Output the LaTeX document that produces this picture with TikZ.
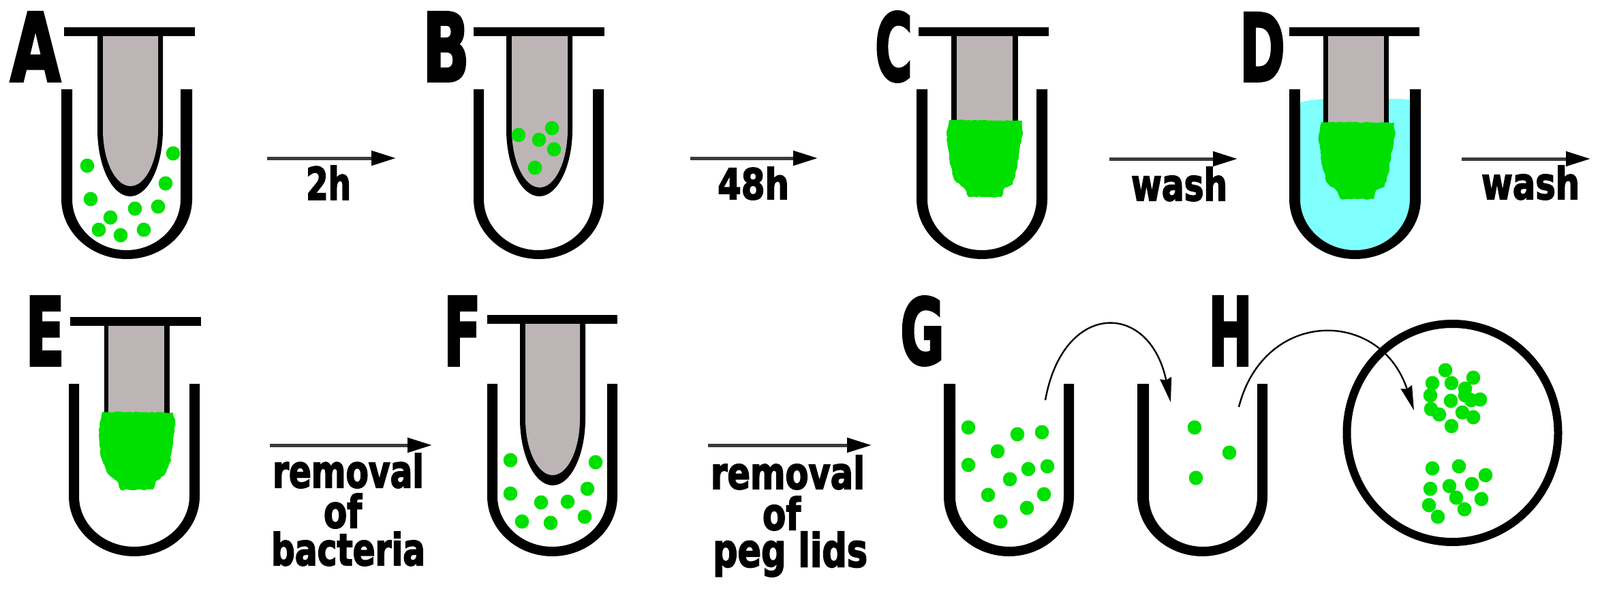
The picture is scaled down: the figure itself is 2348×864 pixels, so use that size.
\documentclass[tikz,border=0pt]{standalone}
\usepackage{graphicx}
\usepackage{fontspec}
\setmainfont[FakeBold=3]{DejaVu Sans Bold}
\usetikzlibrary{arrows.meta,decorations.pathmorphing}
\definecolor{biogreen}{HTML}{00E000}
\definecolor{peggray}{HTML}{BDB5B5}
\definecolor{washcyan}{HTML}{80FFFF}
\definecolor{shaftgray}{HTML}{3A3A3A}
\tikzset{
  lbl/.style={inner sep=0pt,outer sep=0pt,anchor=north west,text=black},
  flow/.style={draw=shaftgray,line width=5pt,-{Triangle[length=36pt,width=21pt,fill=black,color=black]}},
  hop/.style={draw=black,line width=2.4pt,-{Stealth[length=36pt,width=17pt,inset=3pt]}},
  biofilm/.style={fill=biogreen,draw=biogreen,line width=2pt,line join=round,decorate,decoration={random steps,segment length=4pt,amplitude=0.9pt}},
}
% text fitted to an exact box: name, left, top, right, bottom, text
\newcommand{\fitlabel}[6]{\node[lbl] (#1) at (#2,#3) {\resizebox*{\dimexpr #4pt-#2pt\relax}{\dimexpr #5pt-#3pt\relax}{#6}};}
% elliptical U: left, right, curve y, bottom y
\newcommand{\ucalc}[4]{%
  \pgfmathsetmacro{\ucx}{(#1+#2)/2}%
  \pgfmathsetmacro{\uya}{#3+0.55*(#4-#3)}%
  \pgfmathsetmacro{\uxa}{\ucx-0.55*(\ucx-#1)}%
  \pgfmathsetmacro{\uxb}{\ucx+0.55*(\ucx-#1)}}
% well: oL iL iR oR top curveY innerBottom outerBottom innerFill
\newcommand{\well}[9]{%
  \pgfmathsetmacro{\wtop}{#5+14}%
  \ucalc{#2}{#3}{#6}{#7}%
  \fill[#9] (#2,\wtop) -- (#2,#6) .. controls (#2,\uya) and (\uxa,#7) .. (\ucx,#7)
     .. controls (\uxb,#7) and (#3,\uya) .. (#3,#6) -- (#3,\wtop) -- cycle;
  \fill[black] (#2,#5) -- (#2,#6) .. controls (#2,\uya) and (\uxa,#7) .. (\ucx,#7)
     .. controls (\uxb,#7) and (#3,\uya) .. (#3,#6) -- (#3,#5)
  \ucalcpath{#1}{#4}{#6}{#8}{#5};
}
\newcommand{\ucalcpath}[5]{%
  -- (#2,#5) -- (#2,#3) \ucurveback{#1}{#2}{#3}{#4} -- (#1,#5) -- cycle}
\def\ucurveback#1#2#3#4{%
  .. controls (#2,{#3+0.55*(#4-#3)}) and ({(#1+#2)/2+0.275*(#2-#1)},#4) .. ({(#1+#2)/2},#4)
  .. controls ({(#1+#2)/2-0.275*(#2-#1)},#4) and (#1,{#3+0.55*(#4-#3)}) .. (#1,#3)}
% lid: left right top bottom
\newcommand{\lid}[4]{\fill[black] (#1,#3) rectangle (#2,#4);}
% round peg: oL iL iR oR top curveY innerBottom outerBottom
\newcommand{\roundpeg}[8]{%
  \ucalc{#1}{#4}{#6}{#8}%
  \fill[black] (#1,#5) -- (#1,#6) .. controls (#1,\uya) and (\uxa,#8) .. (\ucx,#8)
     .. controls (\uxb,#8) and (#4,\uya) .. (#4,#6) -- (#4,#5) -- cycle;
  \ucalc{#2}{#3}{#6}{#7}%
  \fill[peggray] (#2,#5) -- (#2,#6) .. controls (#2,\uya) and (\uxa,#7) .. (\ucx,#7)
     .. controls (\uxb,#7) and (#3,\uya) .. (#3,#6) -- (#3,#5) -- cycle;
}
% cut peg: oL iL iR oR top bottom
\newcommand{\cutpeg}[6]{\fill[black] (#1,#5) rectangle (#4,#6); \fill[peggray] (#2,#5) rectangle (#3,#6);}
\newcommand{\cells}[1]{\foreach \p/\q in {#1} \fill[biogreen] (\p,\q) ellipse [x radius=10.3,y radius=10.5];}
\begin{document}
\begin{tikzpicture}[x=1pt,y=-1pt]
\useasboundingbox[fill=white] (0,0) rectangle (2348,864);
% ---------- A
\well{90}{106}{265}{282}{131}{292}{367}{380}{white}
\roundpeg{143}{151}{232}{239}{53}{190}{273}{288}
\lid{94}{286}{40}{53}
\cells{128/243,254/225,243/269,133/292,198/306,232/303,162/319,145/337,177/345,211/337}
\fitlabel{la}{15}{18}{89}{119}{A}
% ---------- B
\well{695}{710}{870}{886}{131}{292}{367}{380}{white}
\roundpeg{743}{751}{833}{840}{53}{190}{275}{288}
\lid{695}{887}{40}{53}
\cells{761/198,791/205,810/188,813/219,785/246}
\fitlabel{lb}{620}{18}{689}{119}{B}
% ---------- C
\well{1345}{1361}{1521}{1537}{131}{292}{367}{380}{white}
\cutpeg{1396}{1404}{1486}{1494}{53}{180}
\lid{1348}{1539}{40}{53}
\fill[biofilm] (1394,177) -- (1499,178) -- (1500,197) -- (1495,220) -- (1492,243) -- (1485,270) -- (1473,275) -- (1469,288) -- (1422,288) -- (1417,277) -- (1401,263) -- (1394,233) -- (1390,197) -- cycle;
\fitlabel{lc}{1284}{17}{1339}{120}{C}
% ---------- D
\well{1892}{1908}{2069}{2085}{131}{292}{367}{380}{washcyan}
\fill[white] (1908,131) rectangle (2069,150);
\fill[washcyan] (1908,150) .. controls (1925,146) and (1940,145) .. (1945,145) -- (2040,145) .. controls (2050,145) and (2060,145) .. (2069,146) -- (2069,155) -- (1908,155) -- cycle;
\cutpeg{1942}{1949}{2031}{2038}{53}{185}
\lid{1892}{2083}{40}{53}
\fill[biofilm] (1940,180) -- (2045,181) -- (2046,200) -- (2041,223) -- (2038,246) -- (2031,273) -- (2019,278) -- (2015,291) -- (1968,291) -- (1963,280) -- (1947,266) -- (1940,236) -- (1936,200) -- cycle;
\fitlabel{ld}{1819}{19}{1886}{119}{D}
% ---------- E
\well{101}{116}{278}{293}{563}{728}{802}{816}{white}
\cutpeg{153}{159}{241}{249}{478}{606}
\lid{103}{295}{465}{478}
\fill[biofilm] (151,605) -- (253,606) -- (256,620) -- (253,647) -- (249,677) -- (240,697) -- (228,705) -- (224,717) -- (178,718) -- (174,707) -- (158,693) -- (149,670) -- (146,630) -- cycle;
\fitlabel{le}{37}{435}{95}{536}{E}
% ---------- F
\well{715}{730}{891}{906}{563}{728}{802}{816}{white}
\roundpeg{763}{771}{851}{859}{475}{614}{697}{712}
\lid{715}{906}{462}{475}
\cells{749/675,874/678,862/717,749/724,794/737,833/736,858/758,766/765,808/767}
\fitlabel{lf}{651}{435}{706}{536}{F}
% ---------- G, H
\well{1385}{1402}{1561}{1576}{563}{728}{802}{816}{white}
\cells{1421/627,1493/637,1529/634,1464/662,1421/682,1509/688,1537/684,1482/703,1450/726,1532/725,1507/745,1468/765}
\fitlabel{lg}{1321}{435}{1386}{536}{G}
\well{1669}{1686}{1845}{1860}{563}{728}{802}{816}{white}
\cells{1753/627,1804/664,1755/701}
\fitlabel{lh}{1773}{435}{1838}{536}{H}
% ---------- plate
\draw[black,line width=12pt] (2131.5,635) ellipse [x radius=155,y radius=160];
\cells{2121/543,2162/554,2102/562,2130/562,2150/570,2099/580,2129/588,2150/580,2172/586,2159/587,2100/600,2112/608,2146/605,2162/612,2130/625}
\cells{2102/687,2141/684,2180/697,2160/710,2127/713,2099/717,2137/730,2174/732,2097/741,2149/747,2110/758}
% ---------- straight arrows and their labels
\coordinate (a1s) at (392,232); \coordinate (a1e) at (581,232);
\draw[flow] (a1s) -- (a1e);
\fitlabel{t2h}{449}{243}{515}{293}{2h}
\coordinate (a2s) at (1013,232); \coordinate (a2e) at (1200,232);
\draw[flow] (a2s) -- (a2e);
\fitlabel{t48h}{1053}{245}{1158}{293}{48h}
\coordinate (a3s) at (1628,233); \coordinate (a3e) at (1816,233);
\draw[flow] (a3s) -- (a3e);
\fitlabel{tw1}{1660}{245}{1801}{295}{wash}
\coordinate (a4s) at (2145,233); \coordinate (a4e) at (2334,233);
\draw[flow] (a4s) -- (a4e);
\fitlabel{tw2}{2174}{243}{2318}{293}{wash}
\coordinate (a5s) at (396,653); \coordinate (a5e) at (634,653);
\draw[flow] (a5s) -- (a5e);
\fitlabel{tr1}{400}{665}{622}{716}{removal}
\fitlabel{to1}{475}{724}{531}{775}{of}
\fitlabel{tb1}{398}{780}{624}{830}{bacteria}
\coordinate (a6s) at (1039,653); \coordinate (a6e) at (1279,653);
\draw[flow] (a6s) -- (a6e);
\fitlabel{tr2}{1043}{668}{1269}{718}{removal}
\fitlabel{to2}{1119}{728}{1175}{778}{of}
\fitlabel{tp2}{1046}{780}{1273}{846}{peg lids}
% ---------- curved transfers
\coordinate (c1s) at (1534,587); \coordinate (c1e) at (1718,590);
\draw[hop] (c1s) .. controls (1560,441) and (1687,441) .. (c1e);
\coordinate (c2s) at (1818,597); \coordinate (c2e) at (2075,602);
\draw[hop] (c2s) .. controls (1855,452) and (2026,452) .. (c2e);
\end{tikzpicture}
\end{document}
